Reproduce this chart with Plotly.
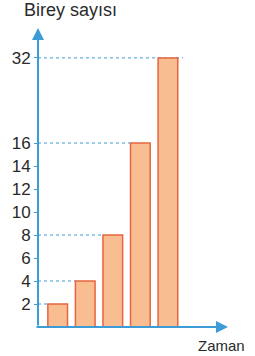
import plotly.graph_objects as go

# Data
periods = [1, 2, 3, 4, 5]
values = [2, 4, 8, 16, 32]
tick_values = [2, 4, 6, 8, 10, 12, 14, 16, 32]
tick_labels = ["2", "4", "6", "8", "10", "12", "14", "16", "32"]
y_title = "Birey sayısı"
x_title = "Zaman"

# Broken axis: above 16 the scale is compressed
def disp(v):
    return v if v <= 16 else 16 + (v - 16) * 0.4625

BLUE = "#3D9BD6"
FILL = "#F9BD92"
EDGE = "#E8653F"
TXT = "#2a2a2a"
FONT = "Liberation Sans, Arial, sans-serif"

x0 = 0.286
fig = go.Figure()
fig.add_trace(go.Bar(
    x=periods, y=[disp(v) for v in values], width=0.714,
    marker=dict(color=FILL, line=dict(color=EDGE, width=1.5)),
    hoverinfo="skip",
))

shapes = []
for i, v in zip(periods, values):
    xe = i - 0.357 if v != 32 else 5.55
    shapes.append(dict(type="line", xref="x", yref="y", x0=x0, x1=xe,
                       y0=disp(v), y1=disp(v), layer="below",
                       line=dict(color=BLUE, width=1, dash="dot")))

annotations = [
    # y axis arrow
    dict(xref="paper", yref="paper", x=0, y=1.0, ax=0, ay=299,
         axref="pixel", ayref="pixel", showarrow=True, arrowhead=2,
         arrowsize=1.2, arrowwidth=2, arrowcolor=BLUE, text=""),
    # x axis arrow
    dict(xref="paper", yref="paper", x=1.0, y=0, ax=-193, ay=0,
         axref="pixel", ayref="pixel", showarrow=True, arrowhead=2,
         arrowsize=1.2, arrowwidth=2, arrowcolor=BLUE, text=""),
    dict(xref="paper", yref="paper", x=0, xshift=-16, y=1.0, yshift=6,
         xanchor="left", yanchor="bottom", showarrow=False, text=y_title,
         font=dict(family=FONT, size=18, color=TXT)),
    dict(xref="paper", yref="paper", x=1, xshift=19, y=0, yshift=-8,
         xanchor="right", yanchor="top", showarrow=False, text=x_title,
         font=dict(family=FONT, size=15, color=TXT)),
]

fig.update_layout(
    width=255, height=356,
    margin=dict(l=35, r=27, t=28, b=29),
    paper_bgcolor="white", plot_bgcolor="white",
    showlegend=False,
    shapes=shapes, annotations=annotations,
    xaxis=dict(range=[x0, 7.18], showgrid=False, zeroline=False,
               showticklabels=False, showline=False, fixedrange=True),
    yaxis=dict(range=[0, 26], showgrid=False, zeroline=False, showline=False,
               tickmode="array", tickvals=[disp(v) for v in tick_values],
               ticktext=tick_labels, ticks="outside", ticklen=3,
               tickcolor=BLUE, tickfont=dict(family=FONT, size=17, color=TXT),
               fixedrange=True),
    font=dict(family=FONT),
)

fig.write_html("out.html", config={"displayModeBar": False},
               post_script="document.body.style.margin='0';document.body.style.overflow='hidden';")
